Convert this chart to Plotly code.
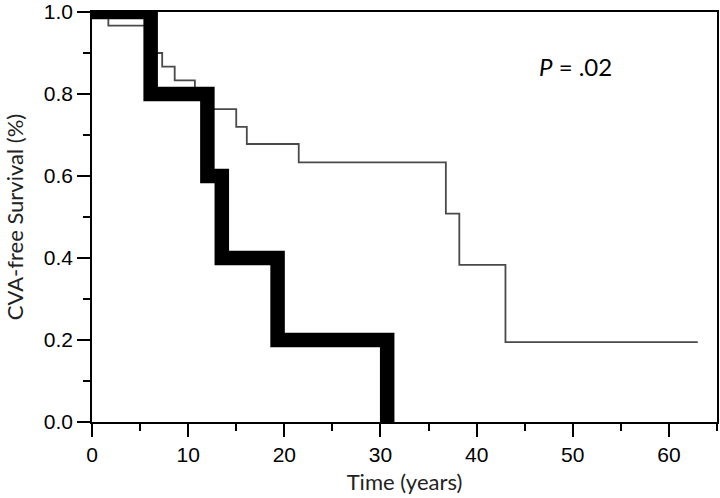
import plotly.graph_objects as go

# Kaplan-Meier style step data
thin_time = [0, 1.7, 6.3, 6.6, 7.3, 8.6, 10.7, 12.0, 15.0, 16.1, 21.5, 36.8, 38.2, 43.0, 63.0]
thin_surv = [1.0, 0.967, 0.933, 0.90, 0.867, 0.833, 0.80, 0.763, 0.72, 0.678, 0.633, 0.508, 0.383, 0.195, 0.195]

thick_time = [0, 6.1, 12.0, 13.5, 19.3, 30.7]
thick_surv = [1.0, 0.8, 0.6, 0.4, 0.2, 0.0]

y_ticks = [0.0, 0.2, 0.4, 0.6, 0.8, 1.0]
x_ticks = [0, 10, 20, 30, 40, 50, 60]

fig = go.Figure()

fig.add_trace(go.Scatter(
    x=thin_time, y=thin_surv, mode='lines',
    line=dict(shape='hv', color='#4a4a4a', width=1.8),
    showlegend=False
))
fig.add_trace(go.Scatter(
    x=thick_time, y=thick_surv, mode='lines',
    line=dict(shape='hv', color='black', width=14.5),
    showlegend=False
))

fig.add_annotation(
    x=50.3, y=0.866, xref='x', yref='y', showarrow=False,
    text='<i>P</i> = .02',
    font=dict(family='Lato', size=24, color='black')
)

tick_font = dict(family='Liberation Sans', size=21, color='black')
title_font = dict(family='Lato', size=22, color='#222222')

fig.update_xaxes(
    range=[0, 65], tickvals=x_ticks, ticks='outside', ticklen=13, tickwidth=1.5,
    tickcolor='black', showline=True, linecolor='black', linewidth=1.5, mirror=True,
    showgrid=False, zeroline=False, tickfont=tick_font,
    minor=dict(dtick=5, tick0=0, ticks='outside', ticklen=7, tickwidth=1.5, tickcolor='black', showgrid=False),
    title=dict(text='Time (years)', font=title_font, standoff=10)
)
fig.update_yaxes(
    range=[0, 1], tickvals=y_ticks, tickformat='.1f', ticks='outside', ticklen=13, tickwidth=1.5,
    tickcolor='black', showline=True, linecolor='black', linewidth=1.5, mirror=True,
    showgrid=False, zeroline=False, tickfont=tick_font,
    minor=dict(dtick=0.1, tick0=0, ticks='outside', ticklen=7, tickwidth=1.5, tickcolor='black', showgrid=False),
    title=dict(text='CVA-free Survival (%)', font=title_font, standoff=14)
)

fig.update_layout(
    width=720, height=498,
    margin=dict(l=92, r=3, t=12, b=76, autoexpand=False),
    plot_bgcolor='white', paper_bgcolor='white'
)

# drop the browser's default 8px body margin so the figure sits at the page origin
fig.write_html('out.html', config={'displayModeBar': False},
               post_script="document.body.style.margin='0';")
